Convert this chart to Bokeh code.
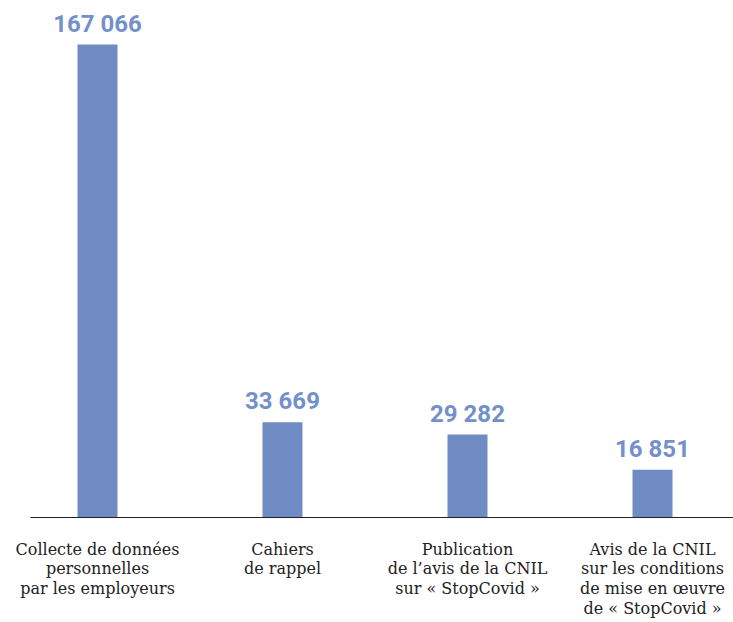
from bokeh.plotting import figure
from bokeh.models import Range1d, FixedTicker, ColumnDataSource
from bokeh.core.properties import value
from bokeh.embed import file_html
from bokeh.resources import INLINE

categories = [
    "Collecte de données\npersonnelles\npar les employeurs",
    "Cahiers\nde rappel",
    "Publication\nde l\u2019avis de la CNIL\nsur « StopCovid »",
    "Avis de la CNIL\nsur les conditions\nde mise en œuvre\nde « StopCovid »",
]
values = [167066, 33669, 29282, 16851]
labels = [f"{v:,}".replace(",", " ") for v in values]

BAR = "#708BC4"
TXT = "#7490CA"

xs = list(range(len(values)))
src = ColumnDataSource(dict(x=xs, top=values, lab=labels))

W, H = 733, 622
frame_h = 517
y_end = values[0] * frame_h / 473

p = figure(width=W, height=H, output_backend="svg", toolbar_location=None,
           x_range=Range1d(-67 / 185, 636 / 185), y_range=Range1d(0, y_end),
           min_border_left=30, min_border_right=0, min_border_top=0,
           min_border_bottom=H - frame_h)
p.outline_line_color = None
p.xgrid.visible = False
p.ygrid.visible = False
p.yaxis.visible = False
p.background_fill_color = "white"
p.border_fill_color = "white"

p.vbar(x="x", top="top", width=40 / 185, bottom=0, source=src,
       fill_color=BAR, line_color=None)
p.text(x="x", y="top", text="lab", source=src, y_offset=-21,
       text_align="center", text_baseline="alphabetic",
       text_font=value("Roboto"), text_font_style="bold",
       text_font_size="24px", text_color=TXT)

ax = p.xaxis[0]
ax.ticker = FixedTicker(ticks=xs)
ax.major_label_overrides = {i: c for i, c in zip(xs, categories)}
ax.major_tick_line_color = None
ax.minor_tick_line_color = None
ax.axis_line_color = "#222222"
ax.axis_line_width = 1
ax.major_label_standoff = 16
ax.major_label_text_font = "DejaVu Serif"
ax.major_label_text_font_size = "16px"
ax.major_label_text_line_height = 1.05
ax.major_label_text_color = "#222222"
ax.major_label_text_align = "center"

open("out.html", "w").write(file_html(p, INLINE))
